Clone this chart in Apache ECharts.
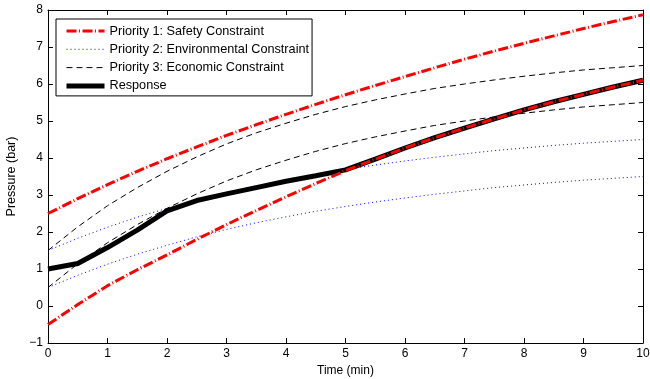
<!DOCTYPE html>
<html>
<head>
<meta charset="utf-8">
<script src="https://cdn.jsdelivr.net/npm/echarts@6/dist/echarts.min.js"></script>
<style>
  html, body { margin: 0; padding: 0; background: #fff; }
  #chart { width: 650px; height: 379px; }
</style>
</head>
<body>
<div id="chart"></div>
<script>
var time = [0, 0.5, 1, 1.5, 2, 2.5, 3, 3.5, 4, 4.5, 5, 5.5, 6, 6.5, 7, 7.5, 8, 8.5, 9, 9.5, 10]

var safetyHigh = [2.5, 2.9, 3.28, 3.64, 3.98, 4.3, 4.61, 4.9, 5.18, 5.45, 5.71, 5.96, 6.2, 6.44, 6.67, 6.89, 7.1, 7.3, 7.5, 7.69, 7.87]
var safetyLow = [-0.5, 0.04, 0.55, 0.98, 1.38, 1.8, 2.2, 2.58, 2.95, 3.31, 3.66, 3.97, 4.27, 4.55, 4.81, 5.06, 5.3, 5.52, 5.72, 5.92, 6.1]
var envHigh = [1.5, 1.83, 2.13, 2.4, 2.64, 2.87, 3.07, 3.25, 3.41, 3.56, 3.69, 3.81, 3.92, 4.02, 4.11, 4.2, 4.27, 4.34, 4.4, 4.45, 4.5]
var envLow = [0.5, 0.83, 1.13, 1.4, 1.64, 1.87, 2.07, 2.25, 2.41, 2.56, 2.69, 2.81, 2.92, 3.02, 3.11, 3.2, 3.27, 3.34, 3.4, 3.45, 3.5]
var ecoHigh = [1.5, 2.14, 2.71, 3.2, 3.64, 4.03, 4.38, 4.68, 4.94, 5.18, 5.39, 5.57, 5.73, 5.88, 6.0, 6.11, 6.21, 6.3, 6.38, 6.44, 6.5]
var ecoLow = [0.5, 1.14, 1.71, 2.2, 2.64, 3.03, 3.38, 3.68, 3.94, 4.18, 4.39, 4.57, 4.73, 4.88, 5.0, 5.11, 5.21, 5.3, 5.38, 5.44, 5.5]
var response = [1.0, 1.15, 1.58, 2.05, 2.57, 2.85, 3.03, 3.2, 3.37, 3.52, 3.68, 3.97, 4.27, 4.55, 4.81, 5.06, 5.3, 5.52, 5.72, 5.92, 6.1]

var xTicks = [0, 1, 2, 3, 4, 5, 6, 7, 8, 9, 10]
var yTicks = [-1, 0, 1, 2, 3, 4, 5, 6, 7, 8]

var names = [
  'Priority 1: Safety Constraint',
  'Priority 2: Environmental Constraint',
  'Priority 3: Economic Constraint',
  'Response'
]

function pairs(ys) {
  return time.map(function (t, i) { return [t, ys[i]] })
}

var font = 'Liberation Sans, Arial, Helvetica, sans-serif'

function minus(v) {
  return String(v).replace('-', '\u2212')
}

function axisBase(show) {
  return {
    type: 'value',
    axisLine: { show: true, onZero: false, lineStyle: { color: '#000', width: 1 } },
    axisTick: { show: true, inside: true, length: 5, lineStyle: { color: '#000' } },
    splitLine: { show: false },
    axisLabel: { show: show, color: '#000', fontSize: 12, fontFamily: font, formatter: minus }
  }
}

var xBottom = axisBase(true)
xBottom.min = xTicks[0]
xBottom.max = xTicks[xTicks.length - 1]
xBottom.interval = 1
xBottom.position = 'bottom'
xBottom.axisLabel.margin = 5
xBottom.name = 'Time (min)'
xBottom.nameLocation = 'middle'
xBottom.nameGap = 21
xBottom.nameTextStyle = { color: '#000', fontSize: 12, fontFamily: font }

var xTop = axisBase(false)
xTop.min = xTicks[0]
xTop.max = xTicks[xTicks.length - 1]
xTop.interval = 1
xTop.position = 'top'

var yLeft = axisBase(true)
yLeft.min = yTicks[0]
yLeft.max = yTicks[yTicks.length - 1]
yLeft.interval = 1
yLeft.position = 'left'
yLeft.axisLabel.margin = 5
yLeft.name = 'Pressure (bar)'
yLeft.nameLocation = 'middle'
yLeft.nameGap = 23
yLeft.nameTextStyle = { color: '#000', fontSize: 12.5, fontFamily: font }

var yRight = axisBase(false)
yRight.min = yTicks[0]
yRight.max = yTicks[yTicks.length - 1]
yRight.interval = 1
yRight.position = 'right'

var redStyle = { color: '#ff0000', width: 3, type: [10, 2.5, 1, 2.5] }
var blueStyle = { color: '#0000ff', width: 1, type: [1, 3] }
var blackStyle = { color: '#000000', width: 1, type: [6, 4] }
var respStyle = { color: '#000000', width: 5, type: 'solid' }
var styles = [redStyle, blueStyle, blackStyle, respStyle]

function line(name, ys, style, z) {
  return {
    name: name,
    type: 'line',
    data: pairs(ys),
    showSymbol: false,
    symbol: 'none',
    animation: false,
    itemStyle: { color: style.color },
    lineStyle: style,
    z: z
  }
}

var legendData = names.map(function (n, i) {
  return {
    name: n,
    itemStyle: { opacity: 0 },
    lineStyle: styles[i]
  }
})

var chart = echarts.init(document.getElementById('chart'))
chart.setOption({
  backgroundColor: '#fff',
  animation: false,
  grid: { left: 48, right: 7, top: 10, bottom: 36, containLabel: false, outerBoundsMode: 'none' },
  xAxis: [xBottom, xTop],
  yAxis: [yLeft, yRight],
  legend: {
    left: 56,
    top: 19,
    orient: 'vertical',
    data: legendData,
    itemWidth: 38,
    itemHeight: 14,
    itemGap: 4.3,
    padding: [5, 3, 3, 8],
    backgroundColor: '#fff',
    borderColor: '#000',
    borderWidth: 1,
    borderRadius: 0,
    selectedMode: false,
    textStyle: { color: '#000', fontSize: 12.7, fontFamily: font, lineHeight: 14 }
  },
  series: [
    line(names[0], safetyHigh, redStyle, 5),
    line(names[1], envHigh, blueStyle, 3),
    line(names[2], ecoHigh, blackStyle, 3),
    line(names[3], response, respStyle, 4),
    line(names[0], safetyLow, redStyle, 5),
    line(names[1], envLow, blueStyle, 3),
    line(names[2], ecoLow, blackStyle, 3)
  ]
})
</script>
</body>
</html>
